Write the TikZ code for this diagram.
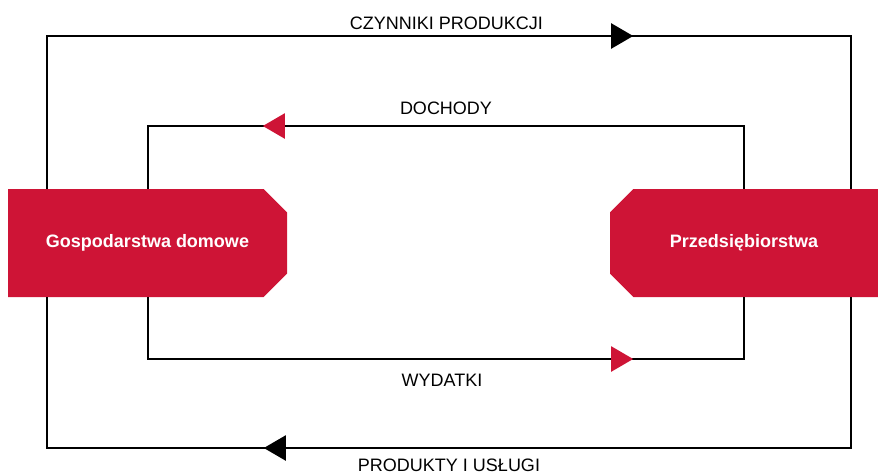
\documentclass[tikz,border=0pt]{standalone}
\usepackage{fontspec}
\setmainfont{Liberation Sans}
\usetikzlibrary{shapes.misc,arrows.meta,decorations.markings}
\definecolor{boxred}{RGB}{206,20,54}

\begin{document}
\begin{tikzpicture}[x=1pt,y=-1pt,
    sector/.style={chamfered rectangle, fill=boxred, text=white, inner sep=0pt,
      font=\bfseries\fontsize{18}{20}\selectfont, minimum height=108pt,
      chamfered rectangle xsep=15pt, chamfered rectangle ysep=15pt},
    flowlabel/.style={font=\fontsize{18}{20}\selectfont, inner sep=0pt},
    flow/.style={line width=2.2pt},
    tipat/.style 2 args={postaction={decorate, decoration={markings,
      mark=at position #1 with {\arrow[#2]{Triangle[length=22pt,width=25pt]}}}}}]

    \useasboundingbox (0,0) rectangle (878,474);

    % The two sectors
    \node[sector, chamfered rectangle corners={north east,south east},
      minimum width=279pt] (home) at (147.5,243) {Gospodarstwa domowe};
    \node[sector, chamfered rectangle corners={north west,south west},
      minimum width=268pt] (firms) at (744,243) {Przedsiębiorstwa};

    % Corners of the loops
    \coordinate (otl) at (47,36);
    \coordinate (otr) at (851,36);
    \coordinate (obl) at (47,448);
    \coordinate (obr) at (851,448);
    \coordinate (itl) at (148,126);
    \coordinate (itr) at (744,126);
    \coordinate (ibl) at (148,359);
    \coordinate (ibr) at (744,359);

    % Outer loop
    \draw[flow, tipat={739pt}{black}] (home.north -| otl) -- (otl) -- (otr) -- (firms.north -| otr);
    \draw[flow, tipat={738pt}{black}] (firms.south -| obr) -- (obr) -- (obl) -- (home.south -| obl);

    % Inner loop
    \draw[flow, tipat={544pt}{boxred}] (firms.north -| itr) -- (itr) -- (itl) -- (home.north -| itl);
    \draw[flow, tipat={547pt}{boxred}] (home.south -| ibl) -- (ibl) -- (ibr) -- (firms.south -| ibr);

    % Labels
    \node[flowlabel] (czynniki) at (446.5,23) {CZYNNIKI PRODUKCJI};
    \node[flowlabel] (dochody) at (446,108) {DOCHODY};
    \node[flowlabel] (wydatki) at (442,380) {WYDATKI};
    \node[flowlabel] (produkty) at (449,465) {PRODUKTY I USŁUGI};

  \end{tikzpicture}
\end{document}
